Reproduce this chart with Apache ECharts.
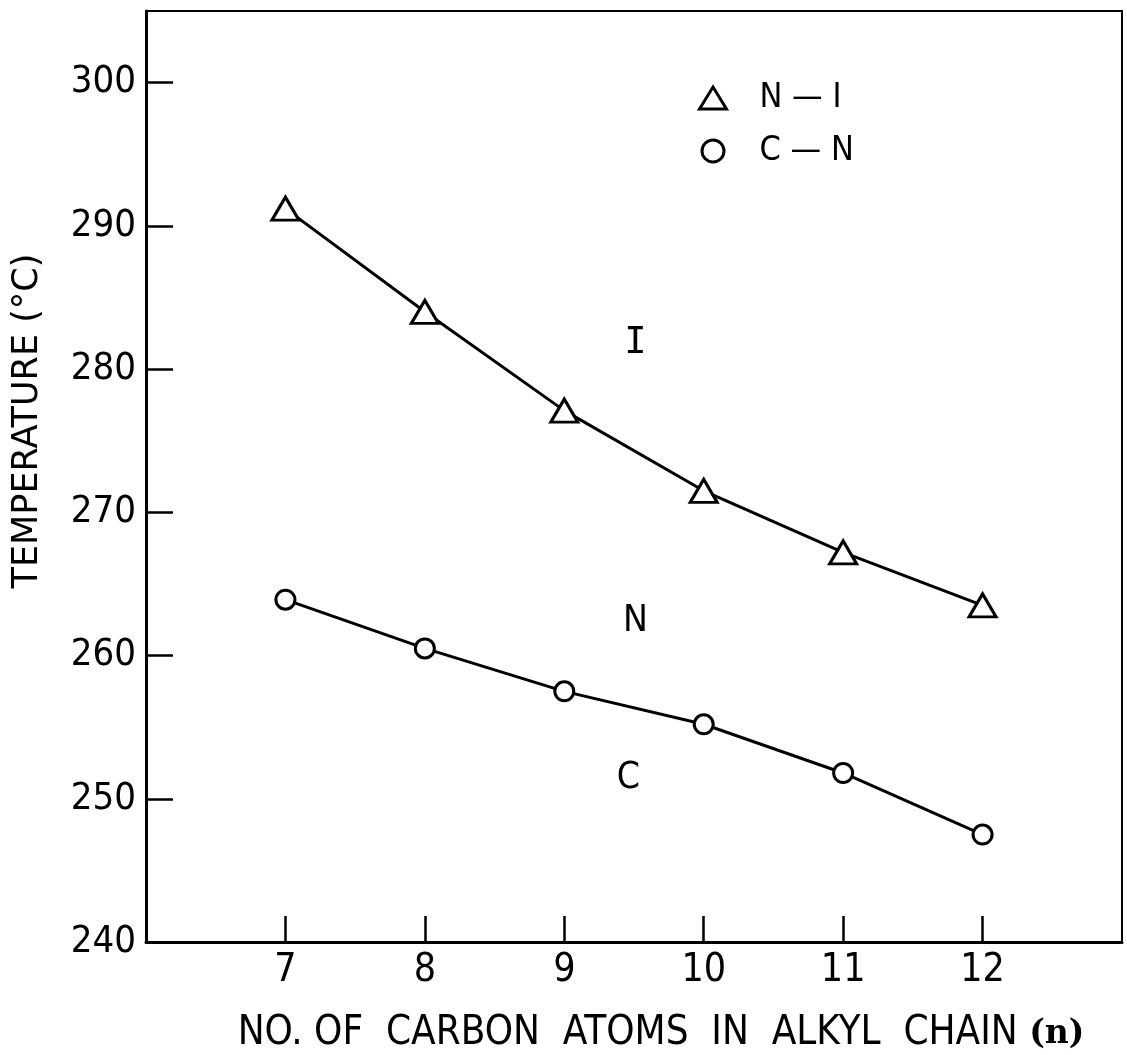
<!DOCTYPE html>
<html>
<head>
<meta charset="utf-8">
<script src="https://cdn.jsdelivr.net/npm/echarts@6/dist/echarts.min.js"></script>
<style>
  html, body { margin: 0; padding: 0; background: #fff; }
  #main { width: 1127px; height: 1055px; }
</style>
</head>
<body>
<div id="main"></div>
<script>
// carbon atoms in alkyl chain (n)
var carbonAtoms = [7, 8, 9, 10, 11, 12];
// transition temperatures (°C)
var niTemps = [291.2, 284.0, 277.1, 271.5, 267.2, 263.5];
var cnTemps = [263.9, 260.5, 257.5, 255.2, 251.8, 247.5];
// phase region labels
var regionNames = ['I', 'N', 'C'];
var regionX = [9.51, 9.51, 9.46];
var regionY = [281.8, 262.4, 251.4];

var FONT = "'DejaVu Sans Condensed', 'Liberation Sans Narrow', 'DejaVu Sans', sans-serif";

var niData = [], cnData = [], regionData = [];
carbonAtoms.forEach(function (n, i) {
    niData.push([n, niTemps[i]]);
    cnData.push([n, cnTemps[i]]);
});
regionNames.forEach(function (name, i) {
    regionData.push({ name: name, value: [regionX[i], regionY[i]] });
});

var myChart = echarts.init(document.getElementById('main'));

// open markers: white fill, black outline
var markerStyle = { color: '#fff', borderColor: '#000', borderWidth: 3 };

var option = {
    backgroundColor: '#fff',
    animation: false,
    grid: {
        left: 146,
        right: 5,
        top: 11,
        bottom: 113,
        show: true,
        borderColor: '#000',
        borderWidth: 2
    },
    legend: {
        orient: 'vertical',
        left: 693,
        top: 76,
        itemGap: 19,
        itemWidth: 27,
        itemHeight: 22,
        selectedMode: false,
        itemStyle: markerStyle,
        textStyle: {
            fontFamily: FONT,
            fontSize: 34,
            color: '#000',
            padding: [0, 0, 0, 28]
        },
        data: [
            { name: 'N — I', icon: 'triangle' },
            { name: 'C — N', icon: 'circle' }
        ]
    },
    xAxis: {
        type: 'value',
        min: 6,
        max: 13,
        interval: 1,
        splitLine: { show: false },
        axisLine: { lineStyle: { color: '#000', width: 3 } },
        axisTick: { inside: true, length: 26, lineStyle: { color: '#000', width: 2.5 } },
        axisLabel: {
            showMinLabel: false,
            showMaxLabel: false,
            margin: 9,
            color: '#000',
            fontFamily: FONT,
            fontSize: 39
        }
    },
    yAxis: {
        type: 'value',
        min: 240,
        max: 305,
        interval: 10,
        splitLine: { show: false },
        axisLine: { lineStyle: { color: '#000', width: 3 } },
        axisTick: { inside: true, length: 27, lineStyle: { color: '#000', width: 2.5 } },
        axisLabel: {
            showMaxLabel: false,
            margin: 10,
            color: '#000',
            fontFamily: FONT,
            fontSize: 38
        }
    },
    graphic: [
        {
            type: 'text',
            x: 28,
            y: 421,
            rotation: Math.PI / 2,
            style: {
                text: 'TEMPERATURE (°C)',
                fill: '#000',
                font: "35px 'DejaVu Sans', sans-serif",
                align: 'center',
                verticalAlign: 'middle'
            }
        },
        {
            type: 'text',
            x: 661,
            y: 1034,
            style: {
                text: 'NO. OF  CARBON  ATOMS  IN  ALKYL  CHAIN {b|(n)}',
                fill: '#000',
                font: '40px ' + FONT,
                align: 'center',
                verticalAlign: 'middle',
                rich: {
                    b: { fontFamily: "'DejaVu Serif', serif", fontWeight: 'bold', fontSize: 33, fill: '#000' }
                }
            }
        }
    ],
    series: [
        {
            name: 'N — I',
            type: 'line',
            data: niData,
            symbol: 'triangle',
            symbolSize: [27, 23],
            lineStyle: { color: '#000', width: 3 },
            itemStyle: markerStyle,
            z: 3
        },
        {
            name: 'C — N',
            type: 'line',
            data: cnData,
            symbol: 'circle',
            symbolSize: 19,
            lineStyle: { color: '#000', width: 3 },
            itemStyle: markerStyle,
            z: 3
        },
        {
            name: 'regions',
            type: 'scatter',
            data: regionData,
            symbolSize: 0,
            silent: true,
            itemStyle: { opacity: 1 },
            label: {
                show: true,
                position: 'inside',
                color: '#000',
                fontSize: 37,
                fontFamily: FONT,
                formatter: function (p) {
                    return p.name === 'I' ? '{s|I}' : p.name;
                },
                rich: {
                    s: { fontFamily: "'DejaVu Sans Mono', monospace", fontSize: 37, color: '#000' }
                }
            }
        }
    ]
};

myChart.setOption(option);
</script>
</body>
</html>
